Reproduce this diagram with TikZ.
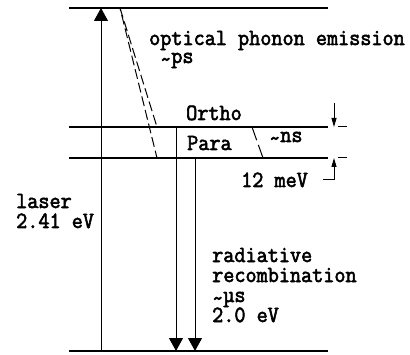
\documentclass[tikz,border=0pt]{standalone}
\usepackage{fontspec}
\usetikzlibrary{arrows.meta}
\newfontfamily\labff{Latin Modern Mono}[FakeBold=2.5,FakeStretch=0.93]
\tikzset{
  lvl/.style={line width=1.4pt},
  vline/.style={line width=1pt},
  bigtip/.style={-{Triangle[width=14pt,length=13pt]}},
  smalltip/.style={-{Triangle[width=5pt,length=9pt]}},
  phon/.style={line width=1pt, dash pattern=on 10pt off 4pt},
  lab/.style={anchor=base west, inner sep=0pt, font=\labfont, align=left},
}
\newcommand{\labfont}{\labff\fontsize{23.2}{20}\selectfont}
\newcommand{\tld}{\raisebox{-3.5pt}[\height][0pt]{\char"007E}}
\begin{document}
\begin{tikzpicture}[x=1pt,y=1pt]
\useasboundingbox (0,0) rectangle (410,354);
% level coordinates
\coordinate (tl) at (69,346);  \coordinate (tr) at (328,346);
\coordinate (ol) at (69,227);  \coordinate (or) at (328,227);
\coordinate (pl) at (69,196);  \coordinate (pr) at (328,196);
\coordinate (bl) at (69,3);    \coordinate (br) at (328,3);
% levels
\draw[lvl] (tl) -- (tr);
\draw[lvl] (ol) -- (or);
\draw[lvl] (pl) -- (pr);
\draw[lvl] (bl) -- (br);
% laser arrow
\coordinate (la0) at (101,3); \coordinate (la1) at (101,346);
\draw[vline,bigtip] (la0) -- (la1);
% recombination arrows
\coordinate (ra0) at (176,227); \coordinate (ra1) at (176,3);
\coordinate (rb0) at (195,196); \coordinate (rb1) at (195,3);
\draw[vline,bigtip] (ra0) -- (ra1);
\draw[vline,bigtip] (rb0) -- (rb1);
% phonon emission dashed lines
\coordinate (ph0) at (120,346);
\coordinate (ph1) at (157,227);
\coordinate (ph2) at (157,196);
\draw[phon] (ph0) -- (ph1);
\draw[phon,dash phase=7pt] (ph0) -- (ph2);
% ortho -> para dashed
\coordinate (ns0) at (252,227); \coordinate (ns1) at (263,196);
\draw[line width=1pt, dash pattern=on 14pt off 5pt] (ns0) -- (ns1);
% 12 meV bracket
\coordinate (ba0) at (334,251); \coordinate (ba1) at (334,227);
\draw[vline,smalltip] (ba0) -- (ba1);
\coordinate (bb0) at (323,174); \coordinate (bb1) at (334,174); \coordinate (bb2) at (334,196);
\draw[vline,smalltip] (bb0) -- (bb1) -- (bb2);
\coordinate (do0) at (338,227); \coordinate (do1) at (347,227);
\coordinate (dp0) at (338,196); \coordinate (dp1) at (347,196);
\draw[vline] (do0) -- (do1);
\draw[vline] (dp0) -- (dp1);
% labels
\node[lab] (t1) at (149,291) {optical phonon emission\\[-2pt]\hspace{11pt}\tld ps};
\node[lab] (t3) at (186,234) {Ortho};
\node[lab] (t4) at (187,204) {Para};
\node[lab] (t5) at (269,212) {\tld ns};
\node[lab] (t6) at (241,167) {12 meV};
\node[lab] (t7) at (16,126) {laser\\2.41 eV};
\node[lab] (t9) at (212,32) {radiative\\recombination\\\tld µs\\2.0 eV};
\end{tikzpicture}
\end{document}
